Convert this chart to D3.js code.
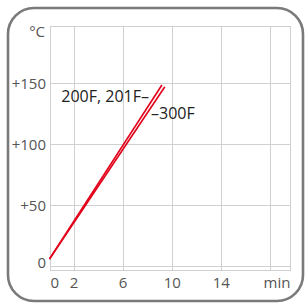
<!DOCTYPE html>
<html>
<head>
<meta charset="utf-8">
<script src="https://cdn.jsdelivr.net/npm/d3@7"></script>
<style>
  html, body { margin: 0; padding: 0; background: #fff; }
  svg { display: block; }
  text { font-family: "Open Sans", sans-serif; }
</style>
</head>
<body>
<svg id="chart" width="305" height="303"></svg>
<script>
// ---- data ----
const seriesNames = ["200F, 201F", "300F"];
const minutes200 = [0, 9.16];
const temps200 = [6, 148.6];
const minutes300 = [0, 9.4];
const temps300 = [6, 147.2];
const xTicks = [0, 2, 6, 10, 14, 18];
const xTickLabels = ["0", "2", "6", "10", "14", ""];
const yTicks = [0, 50, 100, 150];
const yTickLabels = ["0", "+50", "+100", "+150"];
const xUnit = "min";
const yUnit = "°C";

(function () {
// ---- layout ----
const svg = d3.select("#chart");
const pLeft = 49.5, pRight = 290, pTop = 26, pBottom = 270;
const x = d3.scaleLinear().domain([0, 19.6]).range([pLeft, pRight]);
const y = d3.scaleLinear().domain([-3, 197]).range([pBottom, pTop]);
const px = v => Math.round(v) + 0.5;

// outer rounded box
svg.append("rect")
  .attr("x", 8).attr("y", 8).attr("width", 295).attr("height", 293)
  .attr("rx", 26).attr("ry", 26)
  .attr("fill", "none").attr("stroke", "#7a7a7a").attr("stroke-width", 2.6);

const grid = svg.append("g").attr("stroke", "#d0d0d0").attr("stroke-width", 1).attr("shape-rendering", "crispEdges");
grid.selectAll(".vx").data(xTicks).enter().append("line")
  .attr("x1", d => px(x(d))).attr("x2", d => px(x(d)))
  .attr("y1", pTop).attr("y2", pBottom);
grid.selectAll(".hy").data(yTicks).enter().append("line")
  .attr("y1", d => px(y(d))).attr("y2", d => px(y(d)))
  .attr("x1", pLeft).attr("x2", pRight);
grid.append("rect")
  .attr("x", px(pLeft)).attr("y", px(pTop))
  .attr("width", Math.round(pRight) - Math.round(pLeft)).attr("height", Math.round(pBottom) - Math.round(pTop))
  .attr("fill", "none");

// tick labels
const tickColor = "#555";
svg.append("g").selectAll("text").data(yTicks).enter().append("text")
  .attr("x", 46)
  .attr("y", d => y(d) + (d === 0 ? -3.5 : 0))
  .attr("dy", "0.35em")
  .attr("text-anchor", "end")
  .attr("font-size", 15)
  .attr("fill", tickColor)
  .text((d, i) => yTickLabels[i]);

svg.append("g").selectAll("text").data(xTicks).enter().append("text")
  .attr("x", d => d === 0 ? x(d) + 1 : x(d))
  .attr("y", 288)
  .attr("text-anchor", d => d === 0 ? "start" : "middle")
  .attr("font-size", 15)
  .attr("fill", tickColor)
  .text((d, i) => xTickLabels[i]);

svg.append("text").attr("x", 277).attr("y", 288).attr("text-anchor", "middle")
  .attr("font-size", 15).attr("fill", tickColor).text(xUnit);
svg.append("text").attr("x", 45).attr("y", 37).attr("text-anchor", "end")
  .attr("font-size", 15).attr("fill", tickColor).text(yUnit);

// lines
const line = d3.line().x(d => x(d[0])).y(d => y(d[1]));
const data200 = minutes200.map((m, i) => [m, temps200[i]]);
const data300 = minutes300.map((m, i) => [m, temps300[i]]);
[data200, data300].forEach(d => {
  svg.append("path").datum(d).attr("d", line)
    .attr("fill", "none").attr("stroke", "#e2001a").attr("stroke-width", 1.6);
});

// series labels
svg.append("text").attr("x", 149).attr("y", 102).attr("text-anchor", "end")
  .attr("font-size", 16).attr("fill", "#222").text(seriesNames[0] + "\u2013");
svg.append("text").attr("x", 151).attr("y", 118.5).attr("text-anchor", "start")
  .attr("font-size", 16).attr("fill", "#222").text("\u2013" + seriesNames[1]);
})();
</script>
</body>
</html>
